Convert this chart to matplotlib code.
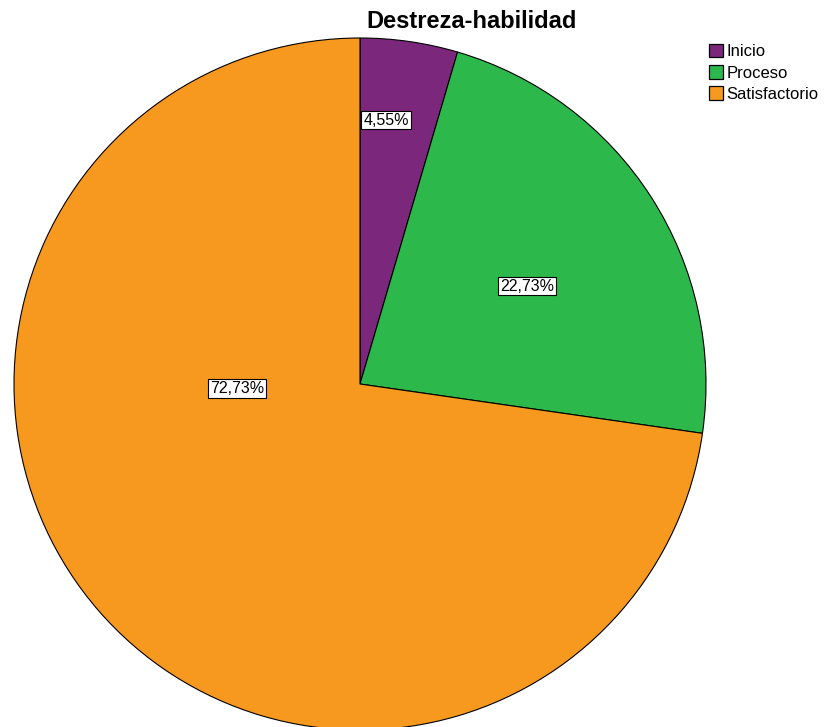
import matplotlib.pyplot as plt
from matplotlib.patches import Patch

categories = ['Inicio', 'Proceso', 'Satisfactorio']
values = [4.55, 22.73, 72.73]
pct_labels = ['4,55%', '22,73%', '72,73%']
colors = ['#7B287C', '#2DB84B', '#F7991E']

plt.rcParams['font.family'] = ['Liberation Sans', 'DejaVu Sans']

fig = plt.figure(figsize=(8.25, 7.27), dpi=100)
W, H = 825, 727
cx, cy, r = 360, 384, 346
ax = fig.add_axes([(cx - r) / W, (H - cy - r) / H, 2 * r / W, 2 * r / H])

wedges, _ = ax.pie(values, colors=colors, startangle=90, counterclock=False,
                   radius=1.0, wedgeprops=dict(edgecolor='black', linewidth=0.8))
ax.set_xlim(-1, 1)
ax.set_ylim(-1, 1)
ax.set_aspect('equal')
ax.axis('off')

# label placement (x, y as fraction of radius), as SPSS puts them
label_pos = [(0.075, 0.763), (0.483, 0.283), (-0.355, -0.014)]
for txt, (lx, ly) in zip(pct_labels, label_pos):
    ax.text(lx, ly, txt, ha='center', va='center', fontsize=11.5,
            bbox=dict(boxstyle='square,pad=0.12', facecolor='white',
                      edgecolor='black', linewidth=0.8))

fig.text(472 / W, 1 - 22 / H, 'Destreza-habilidad', ha='center', va='center',
         fontsize=17, fontweight='bold')

handles = [Patch(facecolor=c, edgecolor='black', linewidth=0.9) for c in colors]
fig.legend(handles, categories, loc='upper left', bbox_to_anchor=(709 / W, 1 - 44 / H),
           frameon=False, fontsize=12, handlelength=0.85, handleheight=0.85,
           handletextpad=0.2, labelspacing=0.35, borderpad=0, borderaxespad=0)

fig.savefig('out.png', dpi=100)
